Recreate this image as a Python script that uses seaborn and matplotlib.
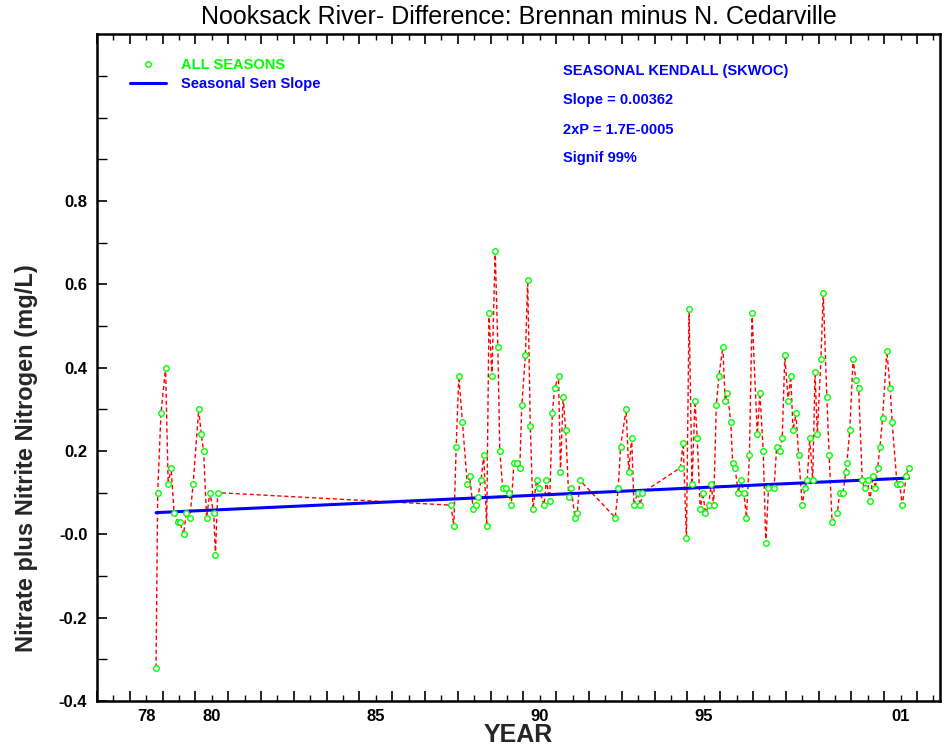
import numpy as np
import pandas as pd
import matplotlib
matplotlib.use("Agg")
import matplotlib.pyplot as plt
import seaborn as sns
from matplotlib.ticker import FixedLocator, FixedFormatter
from matplotlib.lines import Line2D

# ---------------- data ----------------
years = [
    1978.80, 1978.85, 1978.95, 1979.09, 1979.17, 1979.26, 1979.35, 1979.46, 1979.52, 1979.64,
    1979.72, 1979.83, 1979.93, 1980.10, 1980.18, 1980.25, 1980.34, 1980.44, 1980.56, 1980.61,
    1980.68,
    1987.79, 1987.88, 1987.95, 1988.03, 1988.14, 1988.29, 1988.36, 1988.47, 1988.55, 1988.61,
    1988.71, 1988.79, 1988.88, 1988.95, 1989.04, 1989.14, 1989.22, 1989.28, 1989.37, 1989.46,
    1989.55, 1989.63, 1989.71, 1989.79, 1989.89, 1989.95, 1990.06, 1990.13, 1990.21, 1990.29,
    1990.40, 1990.47, 1990.63, 1990.70, 1990.80, 1990.88, 1990.95, 1991.07, 1991.13, 1991.21,
    1991.29, 1991.38, 1991.46, 1991.57, 1991.64, 1991.72,
    1992.80, 1992.89, 1992.96, 1993.13, 1993.21, 1993.30, 1993.37, 1993.48, 1993.56, 1993.63,
    1994.79, 1994.87, 1994.97, 1995.05, 1995.14, 1995.23, 1995.30, 1995.39, 1995.47, 1995.55,
    1995.65, 1995.72, 1995.80, 1995.88, 1995.96, 1996.08, 1996.15, 1996.22, 1996.32, 1996.38,
    1996.45, 1996.55, 1996.63, 1996.72, 1996.80, 1996.89, 1996.97, 1997.13, 1997.21, 1997.31,
    1997.39, 1997.47, 1997.64, 1997.72, 1997.82, 1997.89, 1997.97, 1998.07, 1998.15, 1998.22,
    1998.31, 1998.39, 1998.50, 1998.58, 1998.65, 1998.73, 1998.82, 1998.89, 1998.96, 1999.07,
    1999.14, 1999.25, 1999.32, 1999.41, 1999.57, 1999.64, 1999.74, 1999.83, 1999.86, 1999.95,
    2000.05, 2000.14, 2000.22, 2000.33, 2000.40, 2000.50, 2000.56, 2000.66, 2000.73, 2000.80,
    2000.87, 2000.95, 2001.08, 2001.18, 2001.24, 2001.39, 2001.47, 2001.55, 2001.67, 2001.74,
]
values = [
    -0.32, 0.10, 0.29, 0.40, 0.12, 0.16, 0.05, 0.03, 0.03, 0.00,
    0.05, 0.04, 0.12, 0.30, 0.24, 0.20, 0.04, 0.10, 0.05, -0.05,
    0.10,
    0.07, 0.02, 0.21, 0.38, 0.27, 0.12, 0.14, 0.06, 0.07, 0.09,
    0.13, 0.19, 0.02, 0.53, 0.38, 0.68, 0.45, 0.20, 0.11, 0.11,
    0.10, 0.07, 0.17, 0.17, 0.16, 0.31, 0.43, 0.61, 0.26, 0.06,
    0.13, 0.11, 0.07, 0.13, 0.08, 0.29, 0.35, 0.38, 0.15, 0.33,
    0.25, 0.09, 0.11, 0.04, 0.05, 0.13,
    0.04, 0.11, 0.21, 0.30, 0.15, 0.23, 0.07, 0.10, 0.07, 0.10,
    0.16, 0.22, -0.01, 0.54, 0.12, 0.32, 0.23, 0.06, 0.10, 0.05,
    0.07, 0.12, 0.07, 0.31, 0.38, 0.45, 0.32, 0.34, 0.27, 0.17,
    0.16, 0.10, 0.13, 0.10, 0.04, 0.19, 0.53, 0.24, 0.34, 0.20,
    -0.02, 0.11, 0.11, 0.21, 0.20, 0.23, 0.43, 0.32, 0.38, 0.25,
    0.29, 0.19, 0.07, 0.11, 0.13, 0.23, 0.13, 0.39, 0.24, 0.42,
    0.58, 0.33, 0.19, 0.03, 0.05, 0.10, 0.10, 0.15, 0.17, 0.25,
    0.42, 0.37, 0.35, 0.13, 0.11, 0.13, 0.08, 0.14, 0.11, 0.16,
    0.21, 0.28, 0.44, 0.35, 0.27, 0.12, 0.12, 0.07, 0.14, 0.16,
]

sen_slope = 0.00362          # mg/L per year
sen_start_value = 0.052      # trend value at first sample

title = "Nooksack River- Difference: Brennan minus N. Cedarville"
x_label = "YEAR"
y_label = "Nitrate plus Nitrite Nitrogen (mg/L)"
x_label_years = [1978, 1980, 1985, 1990, 1995, 2001]
x_tick_labels = ["78", "80", "85", "90", "95", "01"]
y_tick_values = [-0.4, -0.2, 0.0, 0.2, 0.4, 0.6, 0.8]
y_tick_labels = ["-0.4", "-0.2", "-0.0", "0.2", "0.4", "0.6", "0.8"]
legend_labels = ["ALL SEASONS", "Seasonal Sen Slope"]
stats_lines = ["SEASONAL KENDALL (SKWOC)", "Slope = 0.00362",
               "2xP = 1.7E-0005", "Signif 99%"]

# ---------------- styling ----------------
sns.set_theme(style="white")
plt.rcParams["font.family"] = ["Liberation Sans", "DejaVu Sans"]

W, H = 942, 750
fig = plt.figure(figsize=(W / 100, H / 100), dpi=100)
ax = fig.add_axes([97 / W, 49 / H, 843 / W, 666.7 / H])

df = pd.DataFrame({"year": years, "value": values})
t0, t1 = years[0], years[-1]
sen_df = pd.DataFrame({"year": [t0, t1],
                       "value": [sen_start_value,
                                 sen_start_value + sen_slope * (t1 - t0)]})

RED = "#ff0000"
GREEN = "#00ff00"
BLUE = "#0000ff"

sns.lineplot(data=df, x="year", y="value", sort=False, color=RED, lw=1.0,
             linestyle=(0, (3, 2)), ax=ax, zorder=2)
sns.lineplot(data=sen_df, x="year", y="value", color=BLUE, lw=2.2, ax=ax, zorder=3)
sns.scatterplot(data=df, x="year", y="value", marker="o", s=16,
                facecolor="white", edgecolor=GREEN, linewidth=1.0, ax=ax, zorder=4)

ax.set_xlim(1977.0, 2002.7)
ax.set_ylim(-0.4, 1.2)

# x ticks: year boundaries (major, unlabeled), mid-year (minor, some labeled)
all_years = np.arange(1977, 2003)
ax.xaxis.set_major_locator(FixedLocator(all_years))
ax.xaxis.set_major_formatter(FixedFormatter([""] * len(all_years)))
mid = all_years + 0.5
lab_map = dict(zip(x_label_years, x_tick_labels))
ax.xaxis.set_minor_locator(FixedLocator(mid))
ax.xaxis.set_minor_formatter(FixedFormatter([lab_map.get(int(y), "") for y in all_years]))

ax.yaxis.set_major_locator(FixedLocator(y_tick_values))
ax.yaxis.set_major_formatter(FixedFormatter(y_tick_labels))
ax.yaxis.set_minor_locator(FixedLocator([-0.3, -0.1, 0.1, 0.3, 0.5, 0.7, 0.9, 1.0, 1.1]))

ax.tick_params(axis="x", which="major", direction="in", length=7, width=1.2,
               color="black", bottom=True, top=True)
ax.tick_params(axis="x", which="minor", direction="in", length=4, width=1.0,
               color="black", bottom=True, top=True, pad=6)
ax.tick_params(axis="y", which="major", direction="in", length=7, width=1.2,
               color="black", left=True, right=False, pad=7)
ax.tick_params(axis="y", which="minor", direction="in", length=7, width=1.0,
               color="black", left=True, right=False)
for lab in ax.get_xticklabels(minor=True) + ax.get_yticklabels():
    lab.set_fontweight("bold")
    lab.set_fontsize(12)
    lab.set_color("black")

for sp in ax.spines.values():
    sp.set_color("black")
    sp.set_linewidth(1.8)

fig.text(518.5 / W, 1 - 17 / H, title, fontsize=18, color="black",
         ha="center", va="center")
ax.set_xlabel(x_label, fontsize=18, fontweight="bold", va="center")
ax.xaxis.set_label_coords(0.5, (701 - 735) / 666.7)
ax.set_ylabel(y_label, fontsize=17, fontweight="bold", va="center")
ax.yaxis.set_label_coords((27 - 97) / 843, (701 - 458) / 666.7)

# legend
handles = [Line2D([], [], marker="o", ls="none", mfc="white", mec=GREEN, ms=4, mew=1.0),
           Line2D([], [], color=BLUE, lw=2.2)]
leg = ax.legend(handles, legend_labels, loc="upper left",
                bbox_to_anchor=(130 / W, 1 - 58 / H), bbox_transform=fig.transFigure,
                frameon=False, borderpad=0, borderaxespad=0, handlelength=2.45,
                handletextpad=1.05, labelspacing=0.35,
                prop={"weight": "bold", "size": 10.5})
for txt, col in zip(leg.get_texts(), [GREEN, BLUE]):
    txt.set_color(col)

# stats block
for line, ypx in zip(stats_lines, [71, 100, 130.5, 158.3]):
    fig.text(562.7 / W, 1 - ypx / H, line, color=BLUE, fontsize=10.5,
             fontweight="bold", ha="left", va="center")

fig.savefig("out.png", dpi=100, facecolor="white")
